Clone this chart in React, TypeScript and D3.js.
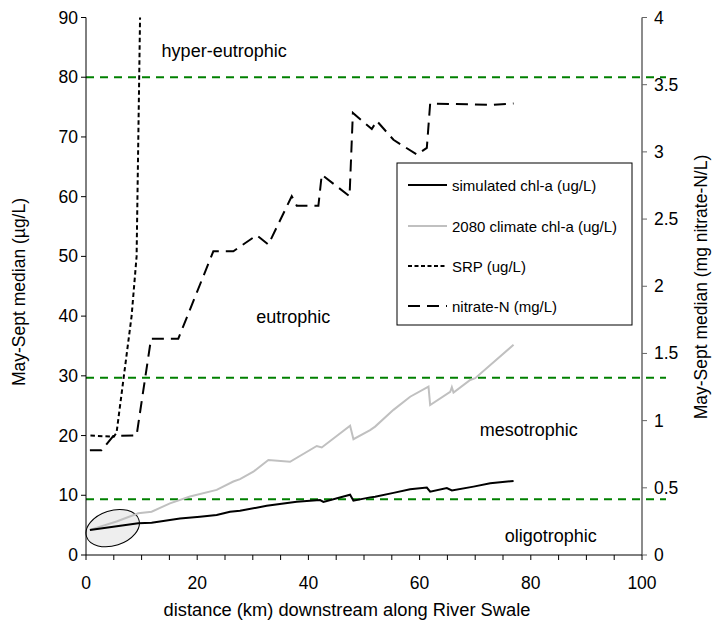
import React from "react";
import * as d3 from "d3";

// ---- data ----
const chlKm = [0.7, 9.4, 11.8, 16.9, 20.5, 23.5, 25.9, 27.7, 32.5, 37.9, 42.1, 42.7, 47.5, 48.1, 51.1, 52, 55.3, 58.3, 61.3, 61.9, 64.9, 65.8, 69.7, 72.7, 76.9];
const chlVal = [4.2, 5.3, 5.4, 6.1, 6.4, 6.7, 7.25, 7.4, 8.25, 8.9, 9.2, 8.9, 10.1, 9.1, 9.65, 9.75, 10.4, 11.0, 11.3, 10.6, 11.2, 10.8, 11.45, 12.0, 12.4];

const clim2080Km = [0.7, 5.5, 9.4, 11.8, 15.1, 18.7, 23.5, 26.5, 27.7, 30.1, 32.8, 36.7, 41.5, 42.4, 47.5, 48.1, 51.1, 52, 55.3, 58.3, 61.6, 61.9, 65.5, 65.8, 66.1, 69.1, 70, 76.9];
const clim2080Val = [4.2, 5.6, 7.0, 7.25, 8.65, 9.8, 10.9, 12.3, 12.7, 13.95, 15.9, 15.6, 18.25, 18.0, 21.65, 19.4, 20.9, 21.5, 24.3, 26.5, 28.2, 25.1, 27.3, 28.1, 27.2, 29.3, 29.6, 35.2];

const srpKm = [0.8, 5, 5.5, 8.2, 9.1, 9.8];
const srpVal = [20, 19.8, 20.5, 40, 50, 95];

const nitrateKm = [0.7, 2.8, 4.9, 9.1, 11.7, 16.6, 22.9, 26.5, 30.7, 32.8, 37.0, 37.9, 41.8, 42.4, 47.4, 48.0, 51.4, 52.3, 55.3, 59.5, 61.3, 61.9, 72.7, 76.9];
const nitrateVal = [0.78, 0.78, 0.885, 0.89, 1.61, 1.61, 2.26, 2.26, 2.38, 2.31, 2.67, 2.60, 2.60, 2.83, 2.67, 3.29, 3.17, 3.23, 3.09, 2.98, 3.03, 3.36, 3.35, 3.36];

const thresholds = [9.35, 29.7, 80];
const zoneLabels = ["oligotrophic", "mesotrophic", "eutrophic", "hyper-eutrophic"];
const zoneLabelPos = [[75.3, 2.2], [70.8, 19.9], [30.6, 38.9], [13.6, 83.4]];

const xTicks = [0, 20, 40, 60, 80, 100];
const xMinorTicks = d3.range(0, 101, 5);
const yLeftTicks = [0, 10, 20, 30, 40, 50, 60, 70, 80, 90];
const yRightTicks = [0, 0.5, 1, 1.5, 2, 2.5, 3, 3.5, 4];

const legendLabels = ["simulated chl-a (ug/L)", "2080 climate chl-a (ug/L)", "SRP (ug/L)", "nitrate-N (mg/L)"];

const FONT = "Arial, 'Liberation Sans', sans-serif";

export default function App() {
  const x = d3.scaleLinear().domain([0, 100]).range([86, 642]);
  const yL = d3.scaleLinear().domain([0, 90]).range([555, 17.5]);
  const yR = d3.scaleLinear().domain([0, 4]).range([555, 17.5]);

  const lineL = (km: number[], v: number[]) =>
    d3.line<number>().x((_, i) => x(km[i])).y((d) => yL(d))(v) as string;
  const lineR = (km: number[], v: number[]) =>
    d3.line<number>().x((_, i) => x(km[i])).y((d) => yR(d))(v) as string;

  const styles = [
    { stroke: "#000", dash: undefined as string | undefined },
    { stroke: "#c0c0c0", dash: undefined },
    { stroke: "#000", dash: "4,2.5" },
    { stroke: "#000", dash: "12,7" },
  ];

  const legendX = 397, legendY = 163, legendW = 235, legendH = 162;
  const legendRows = [185, 226, 266, 306];

  return (
    <svg width={714} height={626} style={{ position: "absolute", left: 0, top: 0, background: "#fff" }} fontFamily={FONT}>
      <defs>
        <clipPath id="plotclip">
          <rect x={86} y={17.5} width={556} height={537.5} />
        </clipPath>
      </defs>

      {/* threshold lines */}
      {thresholds.map((t, i) => (
        <line key={"t" + i} x1={86} x2={666} y1={yL(t)} y2={yL(t)} stroke="#008000" strokeWidth={2} strokeDasharray="8,6" />
      ))}

      {/* ellipse highlight */}
      <ellipse cx={x(4.8)} cy={yL(4.5)} rx={27.5} ry={17.5} transform={`rotate(-18 ${x(4.8)} ${yL(4.5)})`} fill="#eeeeee" stroke="#000" strokeWidth={1} />

      {/* series */}
      <g clipPath="url(#plotclip)" fill="none" strokeWidth={2}>
        <path d={lineL(clim2080Km, clim2080Val)} stroke="#c0c0c0" />
        <path d={lineL(chlKm, chlVal)} stroke="#000" />
        <path d={lineL(srpKm, srpVal)} stroke="#000" strokeDasharray="4.5,3" />
        <path d={lineR(nitrateKm, nitrateVal)} stroke="#000" strokeDasharray="12,7" />
      </g>

      {/* zone labels */}
      {zoneLabels.map((s, i) => (
        <text key={s} x={x(zoneLabelPos[i][0])} y={yL(zoneLabelPos[i][1])} fontSize={18} fill="#000">{s}</text>
      ))}

      {/* left axis */}
      <line x1={86} x2={86} y1={17.5} y2={555} stroke="#000" strokeWidth={1} />
      {yLeftTicks.map((t) => (
        <g key={"yl" + t}>
          <line x1={81} x2={86} y1={yL(t)} y2={yL(t)} stroke="#000" />
          <text x={78} y={yL(t)} fontSize={17.5} textAnchor="end" dominantBaseline="central">{t}</text>
        </g>
      ))}

      {/* right axis */}
      <line x1={642} x2={642} y1={17.5} y2={555} stroke="#666" strokeWidth={1.5} />
      {yRightTicks.map((t) => (
        <g key={"yr" + t}>
          <line x1={642} x2={647} y1={yR(t)} y2={yR(t)} stroke="#666" />
          <text x={654} y={yR(t)} fontSize={17.5} dominantBaseline="central">{t}</text>
        </g>
      ))}

      {/* x axis */}
      <line x1={86} x2={642} y1={555} y2={555} stroke="#000" />
      {xMinorTicks.map((t) => (
        <line key={"xm" + t} x1={x(t)} x2={x(t)} y1={555} y2={560} stroke="#000" />
      ))}
      {xTicks.map((t) => (
        <text key={"xt" + t} x={x(t)} y={589} fontSize={17.5} textAnchor="middle">{t}</text>
      ))}

      {/* axis titles */}
      <text x={347} y={616} fontSize={18.3} textAnchor="middle">distance (km) downstream along River Swale</text>
      <text transform="translate(25,292) rotate(-90)" fontSize={17.5} textAnchor="middle">May-Sept median (µg/L)</text>
      <text transform="translate(707,287) rotate(-90)" fontSize={17.5} textAnchor="middle">May-Sept median (mg nitrate-N/L)</text>

      {/* legend */}
      <rect x={legendX} y={legendY} width={legendW} height={legendH} fill="#fff" stroke="#000" strokeWidth={1} />
      {legendLabels.map((s, i) => (
        <g key={s}>
          <line x1={408} x2={447} y1={legendRows[i]} y2={legendRows[i]} stroke={styles[i].stroke} strokeWidth={2} strokeDasharray={styles[i].dash} />
          <text x={452} y={legendRows[i]} fontSize={15} dominantBaseline="central">{s}</text>
        </g>
      ))}
    </svg>
  );
}
